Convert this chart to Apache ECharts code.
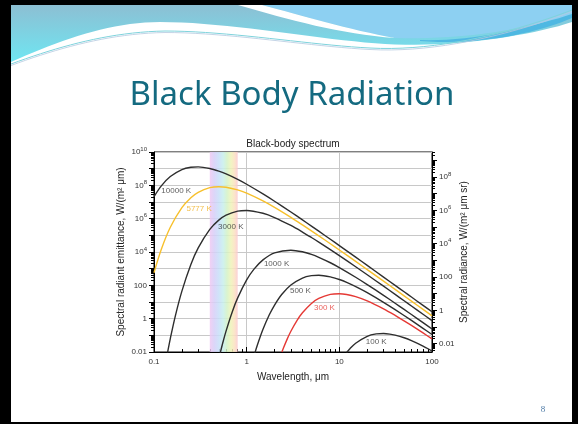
<!DOCTYPE html>
<html><head><meta charset="utf-8">
<script src="https://cdn.jsdelivr.net/npm/echarts@6/dist/echarts.min.js"></script>
<style>
html,body{margin:0;padding:0;background:#000;}
#frame{position:absolute;left:11px;top:5px;width:561px;height:417px;background:#fff;}
#c{position:absolute;left:0;top:0;width:578px;height:424px;}
</style>
</head><body><div id="frame"></div><div id="c"></div><script>
// ---- data: wavelengths in micrometres, emittance as log10 of W/(m^2 um) ----
const wl10000 = [0.1,0.12,0.15,0.2,0.25,0.3,0.4,0.5,0.6,0.8,1,1.5,2,3,4,5,6,8,10,15,20,30,40,50,60,80,100];
const logM10000 = [7.324,7.970,8.527,8.944,9.086,9.108,9.013,8.854,8.682,8.355,8.066,7.486,7.046,6.398,5.926,5.555,5.249,4.763,4.384,3.690,3.195,2.496,1.999,1.613,1.297,0.799,0.412];
const wl5777 = [0.1,0.12,0.15,0.2,0.25,0.3,0.4,0.5,0.6,0.8,1,1.5,2,3,4,5,6,8,10,15,20,30,40,50,60,80,100];
const logM5777 = [2.757,4.163,5.482,6.660,7.257,7.582,7.859,7.918,7.886,7.725,7.529,7.063,6.675,6.076,5.626,5.268,4.971,4.495,4.122,3.436,2.946,2.250,1.755,1.370,1.055,0.558,0.171];
const wl3000 = [0.14,0.15,0.17,0.2,0.25,0.3,0.4,0.5,0.6,0.8,1,1.5,2,3,4,5,6,8,10,15,20,30,40,50,60,80,100];
const logM3000 = [-2.035,-1.193,0.169,1.654,3.252,4.245,5.355,5.912,6.211,6.455,6.494,6.322,6.068,5.591,5.198,4.871,4.594,4.143,3.784,3.117,2.635,1.949,1.458,1.075,0.762,0.267,-0.118];
const wl1000 = [0.5,0.55,0.6,0.7,0.8,1,1.2,1.5,2,3,4,5,6,8,10,15,20,30,40,50,60,80,100];
const logM1000 = [-2.419,-1.490,-0.732,0.421,1.247,2.324,2.970,3.527,3.944,4.108,4.013,3.854,3.682,3.355,3.066,2.486,2.046,1.398,0.926,0.555,0.249,-0.237,-0.617];
const wl500 = [1.2,1.3,1.5,1.75,2,2.4,3,4,5,6,8,10,12,16,20,30,40,60,80,100];
const logM500 = [-2.237,-1.610,-0.639,0.217,0.819,1.465,2.022,2.439,2.581,2.603,2.507,2.348,2.177,1.850,1.561,0.981,0.541,-0.107,-0.579,-0.950];
const wl300 = [2.4,2.5,2.75,3,3.5,4,5,6,8,10,12,15,20,30,40,50,60,80,100];
const logM300 = [-2.007,-1.748,-1.197,-0.755,-0.098,0.355,0.912,1.211,1.455,1.494,1.449,1.322,1.068,0.591,0.198,-0.129,-0.406,-0.857,-1.216];
const wl100 = [12,13,15,20,25,30,35,40,50,60,80,100];
const logM100 = [-2.030,-1.803,-1.473,-1.056,-0.914,-0.892,-0.925,-0.988,-1.147,-1.318,-1.645,-1.934];

const curveNames = ['10000 K','5777 K','3000 K','1000 K','500 K','300 K','100 K'];
// curve label anchors (wavelength um, log10 emittance)
const labelWl = [0.12,0.224,0.492,1.535,2.93,5.33,19.3];
const labelLogM = [7.68,6.6,5.52,3.30,1.66,0.68,-1.36];

// axis tick labels
const xTickExps = [-1,0,1,2];
const xTickTexts = ['0.1','1','10','100'];
const yTickExps = [-2,0,2,4,6,8,10];
const yTickTexts = ['0.01','1','100','10^4','10^6','10^8','10^10'];
const rTickExps = [-2,0,2,4,6,8];
const rTickTexts = ['0.01','1','100','10^4','10^6','10^8'];
const visibleBand = [0.40, 0.80];

// ---- styles ----
const curveColors = ['#2e2e2e','#f7c02c','#2e2e2e','#2e2e2e','#2e2e2e','#e53935','#2e2e2e'];
const labelColors = ['#333','#f0b020','#333','#333','#333','#e53935','#333'];
const FONT = 'Liberation Sans';
const LOGPI = Math.log10(Math.PI);

function richText(t){
  const m = t.match(/^10\^(\d+)$/);
  return m ? '10{s|' + m[1] + '}' : t;
}
const richSup = { s: { fontSize: 6, fontFamily: FONT, color: '#333', padding: [0,0,6,0] } };

// minor tick positions (log10)
const xMinor = [], yMinor = [], rMajor = [], rMinor = [];
for (let n = -1; n < 2; n++) for (let k = 2; k <= 9; k++) xMinor.push(n + Math.log10(k));
for (let n = -2; n < 10; n++) for (let k = 2; k <= 9; k++) yMinor.push(n + Math.log10(k));
for (let n = -3; n < 10; n++) {
  const v = n + LOGPI; if (v >= -2 && v <= 10) rMajor.push(v);
  for (let k = 2; k <= 9; k++) { const w = n + LOGPI + Math.log10(k); if (w >= -2 && w <= 10) rMinor.push(w); }
}

// ---- header decoration helper ----
function bez(p0,p1,p2,p3,n){
  const pts=[];
  for(let i=0;i<=n;i++){const t=i/n,u=1-t;
    pts.push([u*u*u*p0[0]+3*u*u*t*p1[0]+3*u*t*t*p2[0]+t*t*t*p3[0],
              u*u*u*p0[1]+3*u*u*t*p1[1]+3*u*t*t*p2[1]+t*t*t*p3[1]]);}
  return pts;
}
const bandBottom = [].concat(
  bez([11,62],[60,40],[110,22],[160,22],20),
  bez([160,22],[230,22],[320,40],[385,44],20),
  bez([385,44],[450,48],[530,36],[572,22],20));
const thinLine = [].concat(
  bez([11,64],[60,46],[110,32],[165,31],20),
  bez([165,31],[230,31],[310,45],[370,48],20),
  bez([370,48],[440,52],[520,30],[572,10],20));
const thinLine2 = thinLine.map(p=>[p[0],p[1]+1.5]);
const skyShape = [[262,5],[572,5],[572,14]].concat(
  bez([572,14],[530,28],[470,40],[395,38],20)).concat(
  bez([395,38],[350,30],[300,15],[262,5],20));
const whiteStripe = [[238,5],[262,5]].concat(
  bez([262,5],[300,15],[350,30],[395,38],16)).concat(
  bez([395,38],[340,34],[290,20],[238,5],16));
const darkStrip = [].concat(bez([420,40],[480,42],[540,25],[572,12],20))
  .concat(bez([572,18],[540,32],[480,46],[420,41],20));

const chart = echarts.init(document.getElementById('c'), null, {renderer:'canvas'});

const curveSeries = curveNames.map((nm, i) => {
  const wls = [wl10000,wl5777,wl3000,wl1000,wl500,wl300,wl100][i];
  const vals = [logM10000,logM5777,logM3000,logM1000,logM500,logM300,logM100][i];
  return {
    type:'line', name:nm, data: wls.map((w,j)=>[Math.log10(w), vals[j]]),
    showSymbol:false, smooth:0.3, clip:true, silent:true, z:3,
    lineStyle:{color:curveColors[i], width:1.4}
  };
});

const option = {
  backgroundColor:'transparent',
  animation:false,
  grid:{left:154, right:146, top:152, bottom:72, show:true, borderColor:'#000', borderWidth:1, backgroundColor:'transparent'},
  graphic:[
    {type:'polygon', shape:{points:[[11,5],[572,5],[572,22]].concat(bandBottom.slice().reverse())},
     style:{fill:new echarts.graphic.LinearGradient(0,0,0,1,[{offset:0,color:'#8cbfd3'},{offset:1,color:'#6fe6f2'}])}, silent:true},
    {type:'polygon', shape:{points:darkStrip}, style:{fill:'#4fb8e2'}, silent:true},
    {type:'polygon', shape:{points:skyShape}, style:{fill:'#8dd0f2'}, silent:true},
    {type:'polygon', shape:{points:whiteStripe}, style:{fill:'#ffffff'}, silent:true},
    {type:'polyline', shape:{points:thinLine}, style:{stroke:'#7fd3dc', lineWidth:1, fill:null}, silent:true},
    {type:'polyline', shape:{points:thinLine2}, style:{stroke:'#b5c9e0', lineWidth:0.8, fill:null}, silent:true},
    {type:'text', x:292, y:96, style:{text:'Black Body Radiation', font:'33px "Noto Sans"', fill:'#146a80', textAlign:'center', textVerticalAlign:'middle'}, silent:true},
    {type:'text', x:293, y:144, style:{text:'Black-body spectrum', font:'10px "Liberation Sans"', fill:'#222', textAlign:'center', textVerticalAlign:'middle'}, silent:true},
    {type:'text', x:543, y:410, style:{text:'8', font:'9px "Liberation Serif"', fill:'#4d7aa6', textAlign:'center', textVerticalAlign:'middle'}, silent:true}
  ],
  xAxis:[
    {type:'value', min:-1, max:2, interval:1, position:'bottom',
     axisLine:{onZero:false, lineStyle:{color:'#000', width:1}},
     axisTick:{inside:true, length:5, lineStyle:{color:'#000'}},
     axisLabel:{fontSize:8, fontFamily:FONT, color:'#333', margin:6,
       formatter:v=>{const i=xTickExps.indexOf(Math.round(v)); return i>=0?xTickTexts[i]:'';}},
     splitLine:{show:true, lineStyle:{color:'#c8c8c8', width:1}},
     name:'Wavelength, μm', nameLocation:'middle', nameGap:20,
     nameTextStyle:{fontSize:10, fontFamily:FONT, color:'#222'}},
    {type:'value', min:-1, max:2, position:'bottom',
     axisLine:{show:false, onZero:false}, splitLine:{show:false}, axisLabel:{show:false},
     axisTick:{inside:true, length:3, customValues:xMinor, lineStyle:{color:'#000'}}}
  ],
  yAxis:[
    {type:'value', min:-2, max:10, interval:1, position:'left',
     axisLine:{show:true, onZero:false, lineStyle:{color:'#000', width:1}},
     axisTick:{show:true, length:5, lineStyle:{color:'#000'}},
     axisLabel:{fontSize:8, fontFamily:FONT, color:'#333', margin:7, rich:richSup,
       formatter:v=>{const i=yTickExps.indexOf(Math.round(v)); return i>=0?richText(yTickTexts[i]):'';}},
     splitLine:{show:true, lineStyle:{color:'#c8c8c8', width:1}},
     name:'Spectral radiant emittance, W/(m² μm)', nameLocation:'middle', nameGap:28, nameRotate:90,
     nameTextStyle:{fontSize:10, fontFamily:FONT, color:'#222'}},
    {type:'value', min:-2, max:10, position:'right',
     axisLine:{show:true, onZero:false, lineStyle:{color:'#000', width:1}},
     axisTick:{show:true, length:5, customValues:rMajor, lineStyle:{color:'#000'}},
     axisLabel:{fontSize:8, fontFamily:FONT, color:'#333', margin:7, rich:richSup,
       customValues: rTickExps.map(e=>e+LOGPI),
       formatter:v=>{const i=rTickExps.indexOf(Math.round(v-LOGPI)); return i>=0?richText(rTickTexts[i]):'';}},
     splitLine:{show:false},
     name:'Spectral radiance, W/(m² μm sr)', nameLocation:'middle', nameGap:27, nameRotate:90,
     nameTextStyle:{fontSize:10, fontFamily:FONT, color:'#222'}},
    {type:'value', min:-2, max:10, position:'left',
     axisLine:{show:false, onZero:false}, splitLine:{show:false}, axisLabel:{show:false},
     axisTick:{show:true, length:3, customValues:yMinor, lineStyle:{color:'#000'}}},
    {type:'value', min:-2, max:10, position:'right',
     axisLine:{show:false, onZero:false}, splitLine:{show:false}, axisLabel:{show:false},
     axisTick:{show:true, length:3, customValues:rMinor, lineStyle:{color:'#000'}}}
  ],
  series:[
    {type:'line', name:'visible', data:[], z:1, silent:true,
     markArea:{silent:true, itemStyle:{opacity:0.85, color:new echarts.graphic.LinearGradient(0,0,1,0,[
        {offset:0,color:'#efc8f2'},{offset:0.16,color:'#d6cff8'},{offset:0.32,color:'#c8def9'},
        {offset:0.48,color:'#c8efec'},{offset:0.62,color:'#d4f2c6'},{offset:0.76,color:'#eff3b8'},
        {offset:0.88,color:'#fbe2c0'},{offset:1,color:'#fbcacf'}])},
       data:[[{xAxis:Math.log10(visibleBand[0])},{xAxis:Math.log10(visibleBand[1])}]]}}
  ].concat(curveSeries).concat([
    {type:'scatter', name:'labels', symbolSize:0, z:4, silent:true,
     data: curveNames.map((nm,i)=>({name:nm, value:[Math.log10(labelWl[i]), labelLogM[i]],
        label:{color:labelColors[i]}})),
     label:{show:true, position:[0,0], align:'left', verticalAlign:'middle',
       fontSize:8, fontFamily:FONT, formatter:p=>p.name}}
  ])
};
chart.setOption(option);
</script></body></html>
